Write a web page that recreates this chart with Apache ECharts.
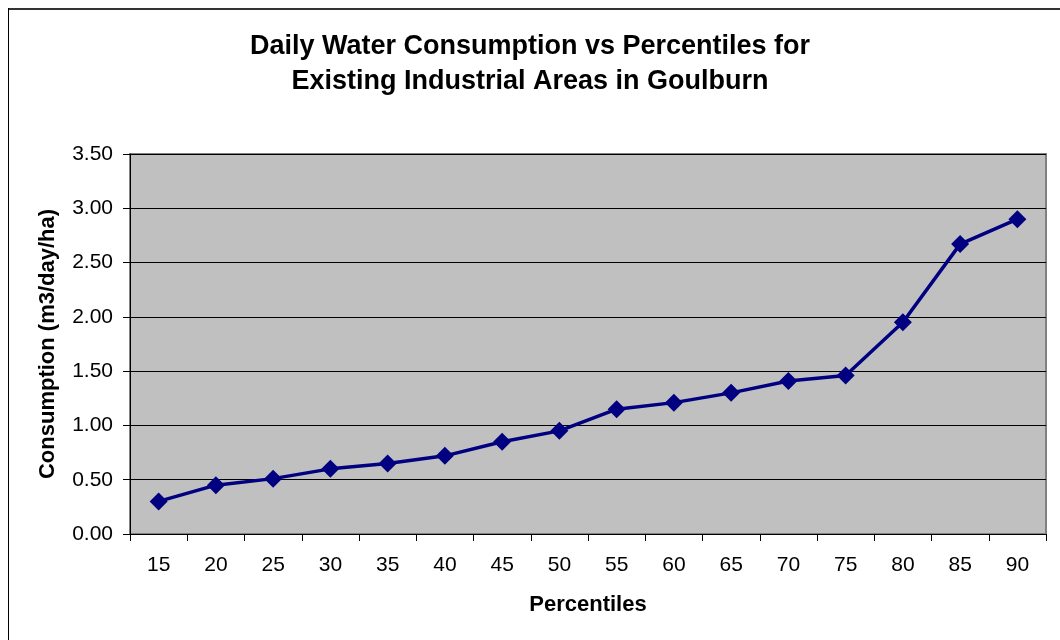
<!DOCTYPE html>
<html>
<head>
<meta charset="utf-8">
<script src="https://cdn.jsdelivr.net/npm/echarts@6/dist/echarts.min.js"></script>
<style>
  body { margin: 0; background: #fff; }
  #main { width: 1060px; height: 640px; }
</style>
</head>
<body>
<div id="main"></div>
<script>
// percentiles along the x axis
var percentiles = ['15', '20', '25', '30', '35', '40', '45', '50', '55', '60', '65', '70', '75', '80', '85', '90']
// consumption in m3/day/ha
var consumption = [0.30, 0.45, 0.51, 0.60, 0.65, 0.72, 0.85, 0.95, 1.15, 1.21, 1.30, 1.41, 1.46, 1.95, 2.67, 2.90]

var chart = echarts.init(document.getElementById('main'))
var font = 'Liberation Sans, Arial, sans-serif'

var option = {
  animation: false,
  textStyle: { fontFamily: font },
  title: {
    text: 'Daily Water Consumption vs Percentiles for\nExisting Industrial Areas in Goulburn',
    left: 'center',
    top: 24,
    textStyle: { fontFamily: font, fontSize: 27, fontWeight: 'bold', color: '#000', lineHeight: 35 }
  },
  graphic: [
    { type: 'line', shape: { x1: 8, y1: 9, x2: 1060, y2: 9 }, style: { stroke: '#333', lineWidth: 2 } },
    { type: 'line', shape: { x1: 8.5, y1: 8, x2: 8.5, y2: 640 }, style: { stroke: '#000', lineWidth: 1 } }
  ],
  grid: {
    left: 130, right: 14, top: 154, bottom: 106,
    show: true,
    backgroundColor: '#c0c0c0',
    borderColor: '#808080',
    borderWidth: 2
  },
  xAxis: {
    type: 'category',
    data: percentiles,
    boundaryGap: true,
    name: 'Percentiles',
    nameLocation: 'middle',
    nameGap: 60,
    nameTextStyle: { fontFamily: font, fontSize: 22, fontWeight: 'bold', color: '#000' },
    axisLine: { lineStyle: { color: '#000', width: 1 } },
    axisTick: { show: true, alignWithLabel: false, length: 7, lineStyle: { color: '#000' } },
    axisLabel: { fontFamily: font, fontSize: 21, color: '#000', margin: 21 },
    splitLine: { show: false }
  },
  yAxis: {
    type: 'value',
    min: 0,
    max: 3.5,
    interval: 0.5,
    name: 'Consumption (m3/day/ha)',
    nameLocation: 'middle',
    nameGap: 71,
    nameTextStyle: { fontFamily: font, fontSize: 22, fontWeight: 'bold', color: '#000' },
    axisLine: { show: true, lineStyle: { color: '#000', width: 1 } },
    axisTick: { show: true, length: 7, lineStyle: { color: '#000' } },
    axisLabel: {
      fontFamily: font, fontSize: 21, color: '#000', margin: 17,
      formatter: function (v) { return v.toFixed(2) }
    },
    splitLine: { show: true, lineStyle: { color: '#000', width: 1 } }
  },
  series: [
    {
      name: 'Consumption',
      type: 'line',
      data: consumption,
      symbol: 'diamond',
      symbolSize: 18,
      lineStyle: { color: '#000080', width: 3.5 },
      itemStyle: { color: '#000080' }
    }
  ]
}

chart.setOption(option)
</script>
</body>
</html>
